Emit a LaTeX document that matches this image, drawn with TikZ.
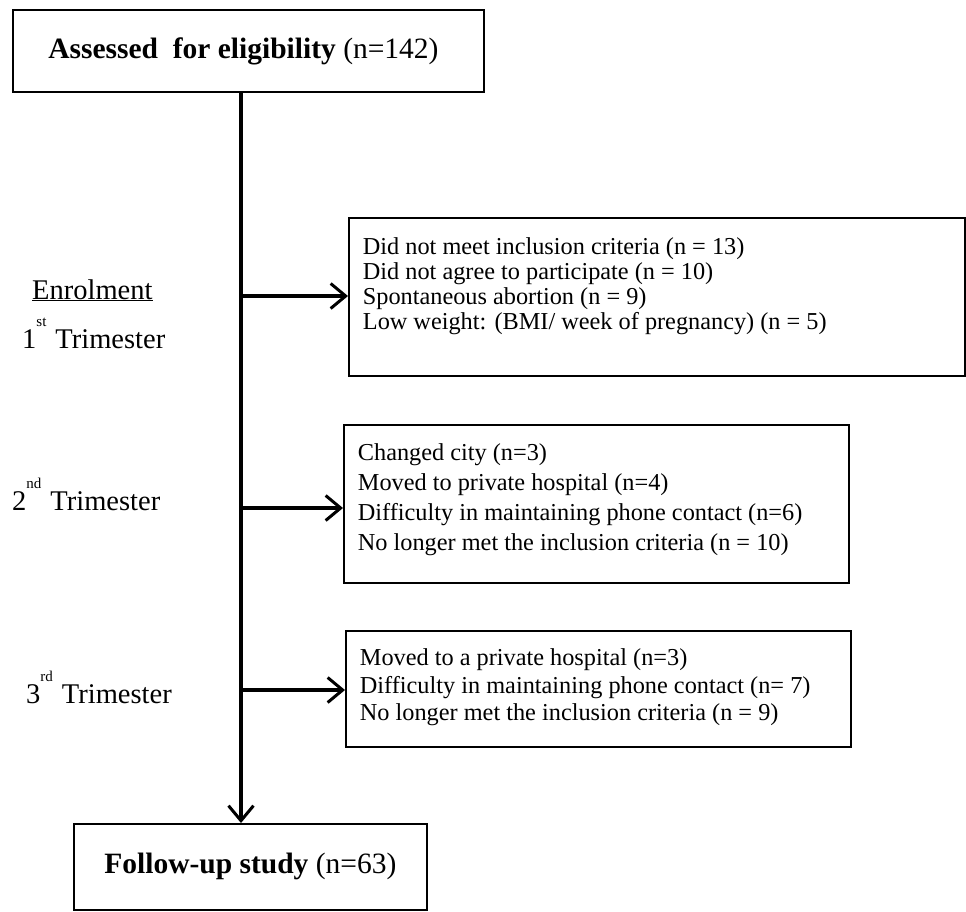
\documentclass[tikz,border=0pt]{standalone}
\usepackage{fontspec}
\setmainfont{Liberation Serif}
\usetikzlibrary{arrows.meta}
\newcommand{\ordsup}[1]{\raisebox{22pt}{\fontsize{15}{15}\selectfont #1}}
\newcommand{\lstbox}[5]{\parbox[t][#1][t]{#2}{\fontsize{24.3}{#4}\selectfont\leftskip=14pt\parindent=0pt\rule{0pt}{#3}#5}}
\begin{document}
\begin{tikzpicture}[x=1pt,y=-1pt,
  box/.style={draw, line width=1.8pt, inner sep=0pt, anchor=north west, align=center},
  listbox/.style={draw, line width=1.8pt, anchor=north west, inner sep=0pt},
  flow/.style={line width=3.2pt, -{Straight Barb[length=15pt,width=25pt,line width=3pt]}},
  lbl/.style={font=\fontsize{28.5}{31}\selectfont, anchor=base west, inner sep=0pt}]
\useasboundingbox (0,0) rectangle (966,911);
\fill[white] (0,0) rectangle (966,911);
\node[box, minimum width=471pt, minimum height=82pt, font=\fontsize{29.5}{32}\selectfont] (top) at (12,9) {\textbf{Assessed\ \ for eligibility} (n=142)\hspace*{10pt}};
\node[box, minimum width=353pt, minimum height=86pt, font=\fontsize{29.5}{32}\selectfont] (bot) at (73,823) {\textbf{Follow-up study} (n=63)};
\node[listbox] (b1) at (348,217) {\lstbox{158pt}{616pt}{37pt}{24.7pt}{Did not meet inclusion criteria (n = 13)\\ Did not agree to participate (n = 10)\\ Spontaneous abortion (n = 9)\\ Low weight: (BMI/ week of pregnancy) (n = 5)}};
\node[listbox] (b2) at (343,424) {\lstbox{158pt}{505pt}{36pt}{30pt}{Changed city (n=3)\\ Moved to private hospital (n=4)\\ Difficulty in maintaining phone contact (n=6)\\ No longer met the inclusion criteria (n = 10)}};
\node[listbox] (b3) at (345,630) {\lstbox{116pt}{505pt}{35pt}{27.5pt}{Moved to a private hospital (n=3)\\ Difficulty in maintaining phone contact (n= 7)\\ No longer met the inclusion criteria (n = 9)}};
\coordinate (j1) at (241,296);
\coordinate (j2) at (241,508);
\coordinate (j3) at (241,690);
\draw[flow] (top.south -| j1) -- (bot.north -| j1);
\draw[flow] (j1) -- (j1 -| b1.west);
\draw[flow] (j2) -- (j2 -| b2.west);
\draw[flow] (j3) -- (j3 -| b3.west);
\node[lbl] (enr) at (32,299) {\underline{Enrolment}};
\node[lbl] (t1) at (22,348) {1\ordsup{st}\hspace{9pt}Trimester};
\node[lbl] (t2) at (12,510) {2\ordsup{nd}\hspace{9pt}Trimester};
\node[lbl] (t3) at (26,703) {3\ordsup{rd}\hspace{9pt}Trimester};
\end{tikzpicture}
\end{document}
